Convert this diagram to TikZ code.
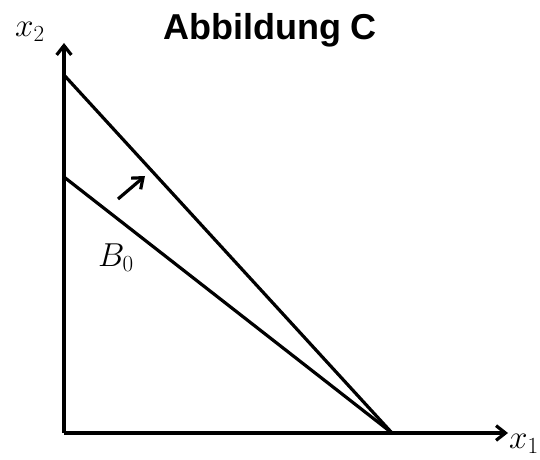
\documentclass[tikz,border=0pt]{standalone}
\usepackage{fontspec}
\newfontfamily\titlefont{Liberation Sans}
\usetikzlibrary{arrows.meta}

\begin{document}
\begin{tikzpicture}[
  x=0.75pt, y=-0.75pt,
  axis/.style={-{Straight Barb[length=7pt,width=11pt,line width=2.4pt]}, line width=2.6pt},
  budget/.style={line width=2.4pt},
  lbl/.style={font=\fontsize{24}{28}\selectfont, inner sep=0pt}
]
\useasboundingbox (0,0) rectangle (540,460);
\coordinate (origin) at (64,433);
\coordinate (ytip) at (64,43);
\coordinate (xtip) at (508,433);
\coordinate (outer) at (64,75);
\coordinate (inner) at (64,177);
\coordinate (meet) at (392,433);
\coordinate (shiftA) at (118,199);
\coordinate (shiftB) at (145,176);
% axes
\draw[axis] (origin) -- (ytip);
\draw[axis] (origin) -- (xtip);
% budget lines
\draw[budget] (outer) -- (meet);
\draw[budget] (inner) -- (meet);
\draw[axis, line width=2.4pt] (shiftA) -- (shiftB);
% labels
\node[lbl] (title) at (270,30) {\titlefont\bfseries\fontsize{27}{30}\selectfont Abbildung C};
\node[lbl] (xtwo) at (30,32) {$x_2$};
\node[lbl] (xone) at (524,444) {$x_1$};
\node[lbl, font=\fontsize{25}{28}\selectfont] (bzero) at (116,258) {$B_0$};
\end{tikzpicture}
\end{document}
